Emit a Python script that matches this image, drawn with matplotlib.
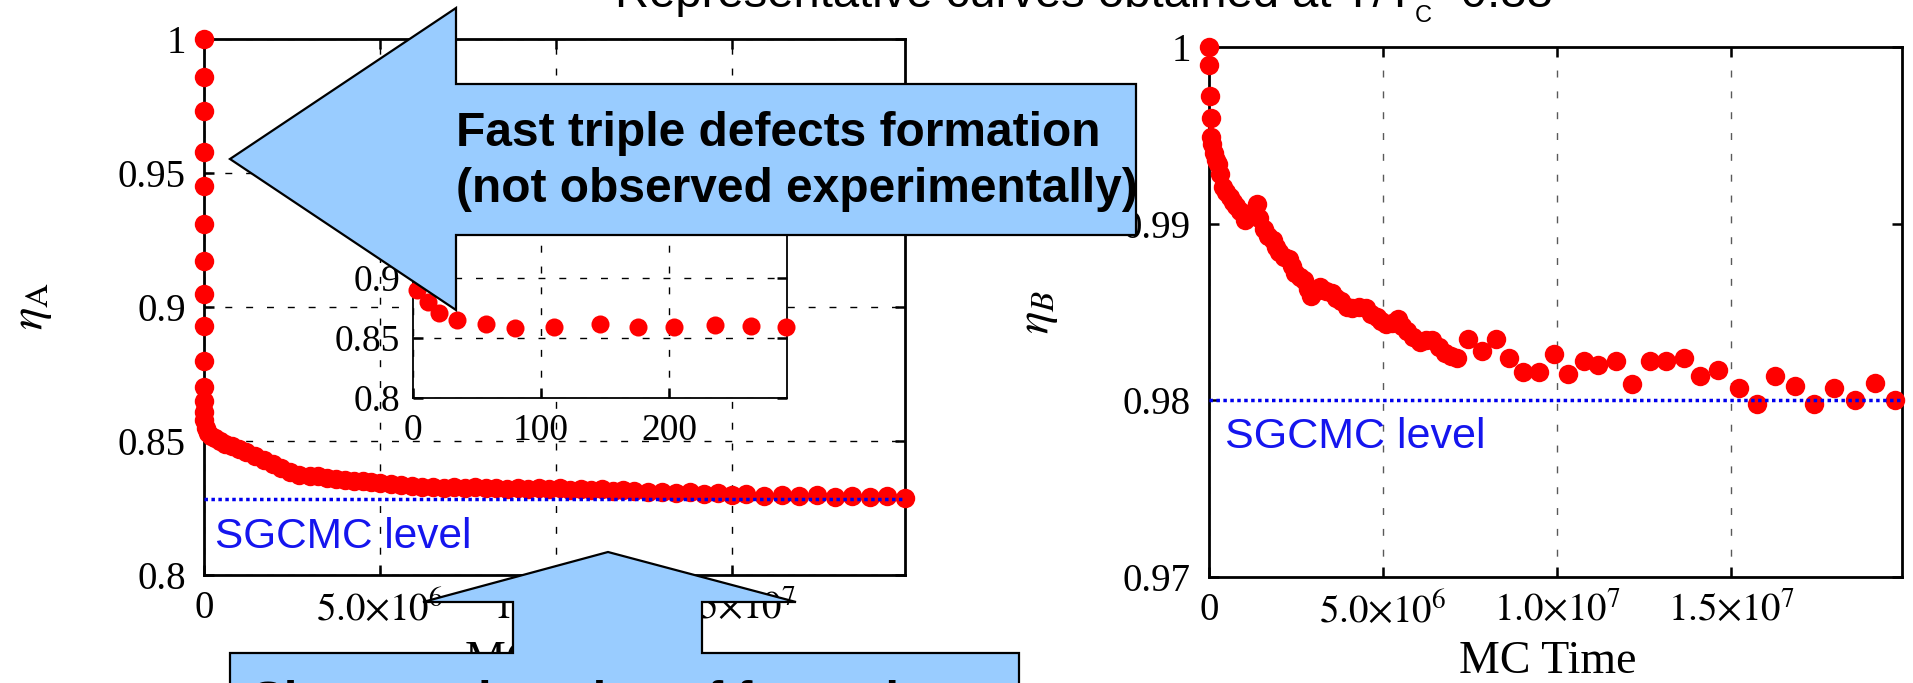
import matplotlib

matplotlib.use("Agg")

import matplotlib.pyplot as plt
from matplotlib.patches import Polygon

W, H = 1913, 683
DPI = 100

# --- dados (tempo em unidades de 1e6 passos MC) ---
tempo_a = [0, 0, 0, 0, 0, 0, 0, 0, 0, 0, 0, 0, 0, 0,
           0.05, 0.12, 0.2, 0.3, 0.45, 0.6, 0.8, 1.0, 1.2, 1.45, 1.7, 1.95,
           2.2, 2.45, 2.7, 3.0, 3.25, 3.5, 3.75, 4.0, 4.25, 4.5, 4.75, 5.0,
           5.3, 5.6, 5.9, 6.2, 6.5, 6.8, 7.1, 7.4, 7.7, 8.0, 8.3, 8.6, 8.9,
           9.2, 9.5, 9.8, 10.1, 10.4, 10.7, 11.0, 11.3, 11.6, 11.9, 12.2,
           12.6, 13.0, 13.4, 13.8, 14.2, 14.6, 15.0, 15.4, 15.9, 16.4, 16.9,
           17.4, 17.9, 18.4, 18.9, 19.4, 19.9]
eta_a = [1.0, 0.986, 0.973, 0.958, 0.945, 0.931, 0.917, 0.905, 0.893, 0.880,
         0.870, 0.865, 0.861, 0.858,
         0.855, 0.853, 0.852, 0.851, 0.850, 0.849, 0.848, 0.847, 0.846, 0.8445,
         0.843, 0.8415, 0.840, 0.8385, 0.8375, 0.837, 0.8368, 0.8362, 0.8358,
         0.8356, 0.8352, 0.8350, 0.8347, 0.8344, 0.8340, 0.8336, 0.8333,
         0.8330, 0.8330, 0.8326, 0.8328, 0.8325, 0.8327, 0.8323, 0.8326,
         0.8322, 0.8325, 0.8321, 0.8324, 0.8320, 0.8323, 0.8319, 0.8322,
         0.8318, 0.8320, 0.8315, 0.8318, 0.8312, 0.8308, 0.8310, 0.8305,
         0.8308, 0.8302, 0.8305, 0.8298, 0.8302, 0.8295, 0.8299, 0.8293,
         0.8297, 0.8291, 0.8295, 0.8290, 0.8293, 0.8289]

tempo_inset = [0, 0, 1, 1, 2, 2, 3, 3, 12, 20, 34, 57, 80, 110, 146, 176,
               204, 236, 264, 291]
eta_inset = [1.0, 0.986, 0.973, 0.958, 0.945, 0.931, 0.917, 0.890, 0.880,
             0.871, 0.865, 0.862, 0.858, 0.859, 0.862, 0.859, 0.859, 0.861,
             0.860, 0.859]

tempo_b = [0, 0.0, 0.03, 0.05, 0.07, 0.1, 0.15, 0.2, 0.26, 0.33, 0.39, 0.5,
           0.59, 0.7, 0.78, 0.9, 1.04, 1.2, 1.37, 1.45, 1.57, 1.7, 1.83, 1.93,
           2.02, 2.15, 2.29, 2.38, 2.48, 2.6, 2.74, 2.85, 2.94, 3.07, 3.2,
           3.35, 3.53, 3.65, 3.79, 3.95, 4.11, 4.3, 4.5, 4.65, 4.83, 4.95,
           5.09, 5.25, 5.42, 5.55, 5.68, 5.87, 6.07, 6.22, 6.4, 6.6, 6.79,
           6.95, 7.12, 7.44, 7.83, 8.23, 8.62, 9.01, 9.47, 9.9, 10.31, 10.77,
           11.16, 11.68, 12.14, 12.66, 13.12, 13.64, 14.1, 14.62, 15.21,
           15.73, 16.25, 16.82, 17.36, 17.95, 18.54, 19.13, 19.71]
eta_b = [1.0, 0.999, 0.9972, 0.9960, 0.9949, 0.9945, 0.9940, 0.9936, 0.9934,
         0.9928, 0.9921, 0.9918, 0.9915, 0.9912, 0.9910, 0.9907, 0.9902,
         0.9906, 0.9911, 0.9903, 0.9897, 0.9893, 0.9891, 0.9887, 0.9884,
         0.9881, 0.9880, 0.9876, 0.9872, 0.9870, 0.9868, 0.9863, 0.9859,
         0.9862, 0.9864, 0.9862, 0.9861, 0.9858, 0.9856, 0.9853, 0.9852,
         0.9853, 0.9852, 0.9849, 0.9847, 0.9845, 0.9843, 0.9844, 0.9846,
         0.9842, 0.9839, 0.9836, 0.9833, 0.9834, 0.9834, 0.9830, 0.9827,
         0.9825, 0.9824, 0.9835, 0.9828, 0.9835, 0.9824, 0.9816, 0.9816,
         0.9826, 0.9815, 0.9822, 0.9820, 0.9822, 0.9809, 0.9822, 0.9822,
         0.9824, 0.9814, 0.9817, 0.9807, 0.9798, 0.9814, 0.9808, 0.9798,
         0.9807, 0.9800, 0.9810, 0.9800]

nivel_sgcmc_a = 0.8284
nivel_sgcmc_b = 0.98

x_ticks = [0, 5, 10, 15]
x_tick_labels = ["0", r"$5.0{\times}10^{6}$", r"$1.0{\times}10^{7}$", r"$1.5{\times}10^{7}$"]
y_ticks_a = [0.8, 0.85, 0.9, 0.95, 1.0]
y_labels_a = ["0.8", "0.85", "0.9", "0.95", "1"]
y_ticks_b = [0.97, 0.98, 0.99, 1.0]
y_labels_b = ["0.97", "0.98", "0.99", "1"]
x_ticks_inset = [0, 100, 200]
y_ticks_inset = [0.8, 0.85, 0.9, 0.95, 1.0]
y_labels_inset = ["0.8", "0.85", "0.9", "0.95", "1"]

plt.rcParams["font.family"] = "Liberation Serif"
plt.rcParams["mathtext.fontset"] = "stix"

AZUL_CAIXA = "#99ccff"
SANS = "Liberation Sans"


def _pos(x0, y0, x1, y1):
    # pixels (origem no topo) -> fracao da figura
    return [x0 / W, 1 - y1 / H, (x1 - x0) / W, (y1 - y0) / H]


def _estilo(ax, size=28, pad_x=11, pad_y=13):
    ax.tick_params(direction="in", length=7, width=1.8, top=True, right=True,
                   labelsize=size)
    ax.tick_params(axis="x", pad=pad_x)
    ax.tick_params(axis="y", pad=pad_y)
    for s in ax.spines.values():
        s.set_linewidth(2)


fig = plt.figure(figsize=(W / DPI, H / DPI), dpi=DPI)

# painel A
ax_a = fig.add_axes(_pos(204, 39, 905, 575))
ax_a.plot(tempo_a, eta_a, "o", color="red", ms=14, mew=0, clip_on=False, zorder=3)
ax_a.axhline(nivel_sgcmc_a, color="#0000ee", lw=2.5, ls=(0, (1, 1)), zorder=4)
ax_a.set_xlim(0, 19.9)
ax_a.set_ylim(0.8, 1.0)
ax_a.set_xticks(x_ticks, x_tick_labels)
ax_a.set_yticks(y_ticks_a, y_labels_a)
ax_a.grid(True, color="black", lw=1, ls=(0, (5, 10)))
ax_a.set_axisbelow(True)
_estilo(ax_a)
ax_a.text(0.3, 0.810, "SGCMC level", color="#1515ee", fontsize=30.5, family=SANS,
          va="baseline")

# insert do painel A
ax_i = fig.add_axes(_pos(413, 158, 787, 398), zorder=5)
ax_i.plot(tempo_inset, eta_inset, "o", color="red", ms=13, mew=0, clip_on=False, zorder=3)
ax_i.set_xlim(0, 292)
ax_i.set_ylim(0.8, 1.0)
ax_i.set_xticks(x_ticks_inset)
ax_i.set_yticks(y_ticks_inset, y_labels_inset)
ax_i.grid(True, color="black", lw=1, ls=(0, (5, 10)))
ax_i.set_axisbelow(True)
_estilo(ax_i, size=27, pad_x=11, pad_y=9)
for s in ax_i.spines.values():
    s.set_linewidth(1.3)

# painel B
ax_b = fig.add_axes(_pos(1209, 47, 1902, 577))
ax_b.plot(tempo_b, eta_b, "o", color="red", ms=14, mew=0, clip_on=False, zorder=3)
ax_b.axhline(nivel_sgcmc_b, color="#0000ee", lw=2.5, ls=(0, (1, 1)), zorder=4)
ax_b.set_xlim(0, 19.9)
ax_b.set_ylim(0.97, 1.0)
ax_b.set_xticks(x_ticks, x_tick_labels)
ax_b.set_yticks(y_ticks_b, y_labels_b)
ax_b.grid(True, axis="x", color="0.35", lw=1, ls=(0, (5, 10)))
ax_b.set_axisbelow(True)
_estilo(ax_b)
ax_b.text(0.45, 0.9773, "SGCMC level", color="#1515ee", fontsize=31, family=SANS,
          va="baseline")

# rotulos dos eixos
fig.text(33 / W, 1 - 306 / H, r"$\eta_{\mathrm{A}}$", rotation=90, fontsize=34,
         ha="center", va="center")
fig.text(1039 / W, 1 - 312 / H, r"$\eta_{B}$", rotation=90, fontsize=34,
         ha="center", va="center")
fig.text(554 / W, 1 - 662 / H, "MC Time", fontsize=33, ha="center", va="center")
fig.text(1548 / W, 1 - 662 / H, "MC Time", fontsize=33, ha="center", va="center")

# camada de anotacoes em pixels
ov = fig.add_axes([0, 0, 1, 1], zorder=20)
ov.set_xlim(0, W)
ov.set_ylim(H, 0)
ov.axis("off")

seta_esq = [(230, 159), (456, 8), (456, 84), (1136, 84), (1136, 235),
            (456, 235), (456, 310)]
seta_baixo = [(608, 552), (796, 602), (702, 602), (702, 653), (1019, 653),
              (1019, 720), (230, 720), (230, 653), (513, 653), (513, 602),
              (423, 602)]
for pts in (seta_esq, seta_baixo):
    ov.add_patch(Polygon(pts, closed=True, facecolor=AZUL_CAIXA, edgecolor="black",
                         lw=1.6, clip_on=False))

ov.text(456, 146, "Fast triple defects formation", fontsize=34.5, fontweight="bold",
        family=SANS, va="baseline")
ov.text(456, 202, "(not observed experimentally)", fontsize=34.5, fontweight="bold",
        family=SANS, va="baseline")
ov.text(252, 715, "Slow continuation of formation", fontsize=34.5, fontweight="bold",
        family=SANS, va="baseline", clip_on=False)

# titulo (cortado no topo, como na imagem original)
t1 = ov.text(615, 7, "Representative curves obtained at T/T", fontsize=34,
             family=SANS, va="baseline", clip_on=False)
fig.canvas.draw()
x_fim = t1.get_window_extent(fig.canvas.get_renderer()).x1
t2 = ov.text(x_fim, 22, "C", fontsize=17, family=SANS, va="baseline")
fig.canvas.draw()
x_fim = t2.get_window_extent(fig.canvas.get_renderer()).x1
ov.text(x_fim + 2, 7, "=0.88", fontsize=34, family=SANS, va="baseline", clip_on=False)

fig.savefig("out.png", dpi=DPI)
plt.close(fig)
